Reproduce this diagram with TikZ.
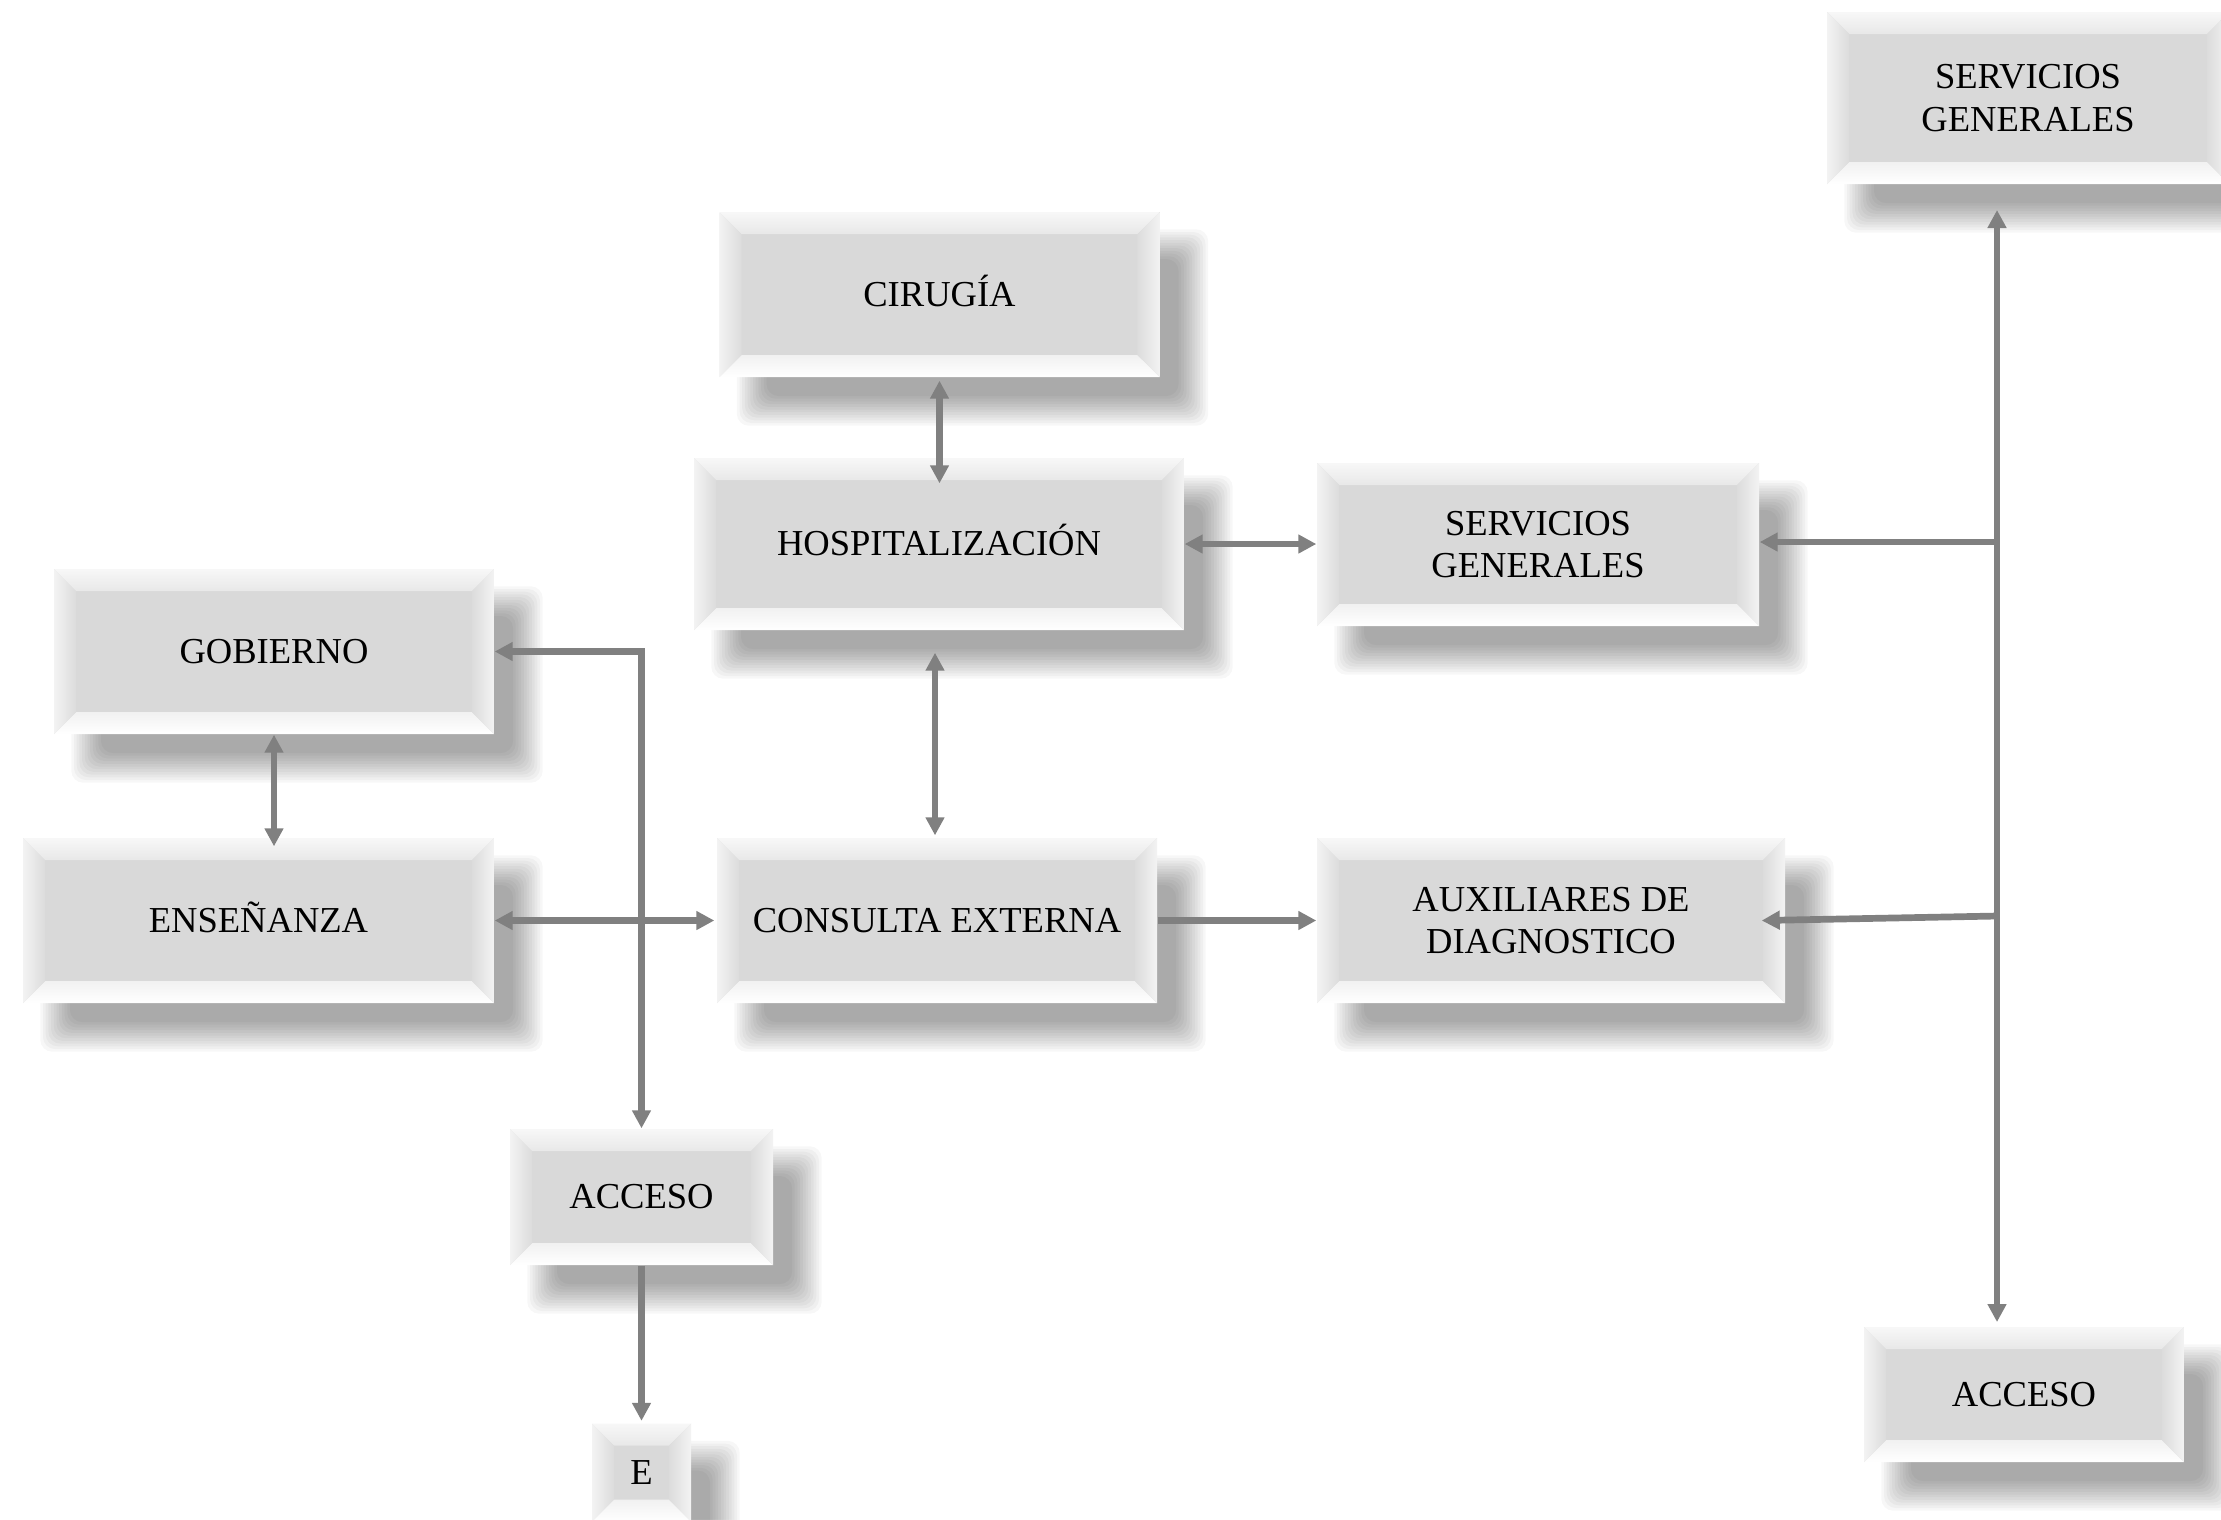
\documentclass[tikz,border=0pt]{standalone}
\usepackage{fontspec}
\setmainfont{Liberation Serif}
\usetikzlibrary{arrows.meta,calc,backgrounds}

\definecolor{boxfill}{HTML}{D9D9D9}
\definecolor{facetop}{HTML}{E8E8E8}
\definecolor{facebot}{HTML}{F1F1F1}
\definecolor{faceout}{HTML}{F3F3F3}
\definecolor{facein}{HTML}{DCDCDC}
\definecolor{linkgray}{HTML}{808080}

% Bevelled faces of a box, drawn inside its own outline
\newcommand\bevelfaces{%
  \coordinate (bvSW) at (path picture bounding box.south west);
  \coordinate (bvSE) at (path picture bounding box.south east);
  \coordinate (bvNW) at (path picture bounding box.north west);
  \coordinate (bvNE) at (path picture bounding box.north east);
  \coordinate (bvsw) at ($(bvSW)+(2.2mm,2.2mm)$);
  \coordinate (bvse) at ($(bvSE)+(-2.2mm,2.2mm)$);
  \coordinate (bvnw) at ($(bvNW)+(2.2mm,-2.2mm)$);
  \coordinate (bvne) at ($(bvNE)+(-2.2mm,-2.2mm)$);
  \shade[top color=white!97!black, bottom color=facetop]
    (bvNW) -- (bvNE) -- (bvne) -- (bvnw) -- cycle;
  \shade[top color=facebot, bottom color=white]
    (bvSW) -- (bvSE) -- (bvse) -- (bvsw) -- cycle;
  \shade[left color=faceout, right color=facein]
    (bvNW) -- (bvnw) -- (bvsw) -- (bvSW) -- cycle;
  \shade[left color=facein, right color=faceout]
    (bvNE) -- (bvne) -- (bvse) -- (bvSE) -- cycle;
}

\tikzset{
  bevelbox/.style={
    rectangle, inner sep=0pt, align=center, text=black,
    font=\fontsize{10.4pt}{12.1pt}\selectfont,
    fill=boxfill,
    path picture={\bevelfaces}
  },
  link/.style={draw=linkgray, line width=0.67mm},
  >={Triangle[length=1.8mm,width=1.8mm]}
}

\begin{document}
\begin{tikzpicture}[x=0.1mm, y=-0.1mm]
\useasboundingbox (0,0) rectangle (2221,1519);

% boxes
\node[bevelbox, minimum width=40.2mm, minimum height=17.2mm] (sgt)  at (2028,98)      {SERVICIOS\\GENERALES};
\node[bevelbox, minimum width=44mm,   minimum height=16.5mm] (cir)  at (939.5,294.5) {CIRUG\smash{Í}A};
\node[bevelbox, minimum width=49mm,   minimum height=17.2mm] (hosp) at (939,544)      {HOSPITALIZACI\smash{Ó}N};
\node[bevelbox, minimum width=44.2mm, minimum height=16.3mm] (sgm)  at (1538,544.5)   {SERVICIOS\\GENERALES};
\node[bevelbox, minimum width=44mm,   minimum height=16.5mm] (gob)  at (274,651.5)    {GOBIERNO};
\node[bevelbox, minimum width=47.1mm, minimum height=16.5mm] (ens)  at (258.5,920.5)  {ENSE\smash{Ñ}ANZA};
\node[bevelbox, minimum width=44mm,   minimum height=16.5mm] (cons) at (937,920.5)    {CONSULTA EXTERNA};
\node[bevelbox, minimum width=46.8mm, minimum height=16.5mm] (aux)  at (1551,920.5)   {AUXILIARES DE\\DIAGNOSTICO};
\node[bevelbox, minimum width=26.3mm, minimum height=13.6mm] (acc1) at (641.5,1197)   {ACCESO};
\node[bevelbox, minimum width=9.9mm,  minimum height=9.8mm]  (e)    at (641.5,1472.5) {E};
\node[bevelbox, minimum width=32mm,   minimum height=13.5mm] (acc2) at (2024,1394.5)  {ACCESO};

% soft drop shadows, built from stacked translucent layers behind the boxes
\begin{scope}[on background layer]
  \fill[white] (0,0) rectangle (2221,1519);
  \foreach \n in {sgt,cir,hosp,sgm,gob,ens,cons,aux,acc1,e,acc2}{
    \foreach \k in {0,...,11}{
      \pgfmathsetmacro\din{-1.5+\k*0.27}
      \pgfmathsetmacro\dneg{1.5-\k*0.27}
      \fill[black, opacity=0.031, rounded corners=1.2mm]
        ($(\n.south west)+(3.3mm,-3.3mm)+(\din mm,\din mm)$) rectangle
        ($(\n.north east)+(3.3mm,-3.3mm)+(\dneg mm,\dneg mm)$);
    }
  }
\end{scope}

% service bus on the right
\coordinate (busT) at (1997,210);
\coordinate (busB) at (1997,1322);
\coordinate (busS) at (1997,542);
\coordinate (busA) at (1997,916);

% connectors
\draw[link,<->] ([yshift=-0.3mm]cir.south) -- ($(cir.south |- hosp.north)+(0,-2.6mm)$);
\draw[link,<->] ($(hosp.south)+(-0.4mm,-2.2mm)$) -- ($(hosp.south |- cons.north)+(-0.4mm,0.2mm)$);
\draw[link,<->] (hosp.east) -- (hosp.east -| sgm.west);
\draw[link,<->] (gob.south) -- ($(gob.south |- ens.north)+(0,-0.9mm)$);
\draw[link,<->] (ens.east) -- ([xshift=-0.2mm]cons.west);
\draw[link,<->] (gob.east) -| (acc1.north);
\draw[link,->] (cons.east) -- (aux.west);
\draw[link,->] (acc1.south) -- ([yshift=0.2mm]e.north);
\draw[link,<->] (busT) -- (busB);
\draw[link,->] (busS) -- (busS -| sgm.east);
\draw[link,->] (busA) -- ([xshift=-2.4mm]aux.east);
\end{tikzpicture}
\end{document}
